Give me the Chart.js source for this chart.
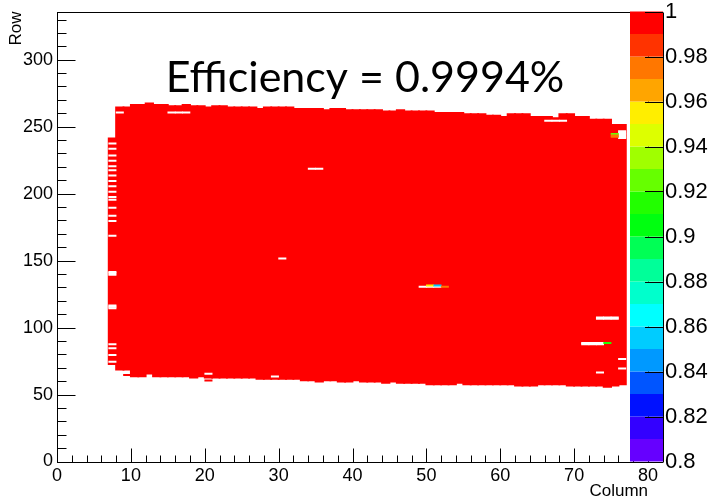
<!DOCTYPE html>
<html>
<head>
<meta charset="utf-8">
<script src="https://cdn.jsdelivr.net/npm/chart.js@4.4.1/dist/chart.umd.min.js"></script>
<style>
html,body{margin:0;padding:0;background:#fff;}
#wrap{width:721px;height:503px;position:relative;}
</style>
</head>
<body>
<div id="wrap"><canvas id="mapa"></canvas></div>
<script>
// columns with hits, and for each one the lowest / highest row reached
const columns = [7,8,9,10,11,12,13,14,15,16,17,18,19,20,21,22,23,24,25,26,27,28,29,30,31,32,33,34,35,36,37,38,39,40,41,
  42,43,44,45,46,47,48,49,50,51,52,53,54,55,56,57,58,59,60,61,62,63,64,65,66,67,68,69,70,71,72,73,74,75,76];
const rowTop = [242,265,265,267,267,268,267,267,266,266,267,266,266,265,266,266,265,265,265,265,264,265,265,265,265,264,264,264,264,263,264,
  264,263,263,263,263,263,262,262,263,262,262,262,262,261,261,261,261,260,260,260,259,259,258,260,260,260,258,258,258,257,260,260,258,258,256,256,256,252,252];
const rowBottom = [72,68,68,63,63,65,63,63,63,63,63,62,63,62,62,62,62,62,62,62,61,61,61,61,61,61,60,60,59,60,60,
  59,59,60,59,59,59,58,59,58,58,58,58,57,57,57,57,58,57,57,57,57,57,57,57,56,56,56,57,57,57,57,56,56,56,56,56,55,56,57];

// pixels without data inside the hit area: [col from, col to, row from, row to]
const holes = [
  [7,7,237,237],[7,7,233,233],[7,7,228,228],[7,7,224,224],[7,7,220,220],[7,7,217,217],[7,7,213,213],
  [7,7,209,209],[7,7,205,205],[7,7,201,201],[7,7,197,197],[7,7,195,195],[7,7,189,189],[7,7,183,183],
  [7,7,179,179],[7,7,168,168],[7,7,139,141],[7,7,114,116],[7,7,87,87],[7,7,84,84],[7,7,79,79],[7,7,74,74],
  [8,8,260,260],[15,17,260,260],[34,35,218,218],[30,30,151,151],[66,68,254,254],[73,75,106,107],
  [71,73,87,88],[73,73,66,66],[76,76,76,76],[76,76,69,69],[76,76,241,246],[49,51,130,130],
  [20,20,65,65],[29,29,63,63]
];
// single pixels: [col, row, efficiency]
const cells = [
  [50,131,0.955],[51,131,0.855],[52,130,0.975],[74,88,0.915],[75,244,0.925],[75,243,0.975],[75,242,0.975],
  [9,64,1],[20,60,1]
];

const xTicks = [0,10,20,30,40,50,60,70,80];
const yTicks = [0,50,100,150,200,250,300];
const zTicks = [0.8,0.82,0.84,0.86,0.88,0.9,0.92,0.94,0.96,0.98,1];
const xMinorStep = 2, yMinorStep = 10;
const nCols = 80, nRows = 336;
const zMin = 0.8, zMax = 1;
// palette, 20 levels from 0.80 up to 1.00
const palette = ['#6600ff','#3300ff','#0011ff','#0055ff','#0099ff','#00ccff','#00ffff','#00ffcc','#00ff99','#00ff55',
  '#00ff10','#22ff00','#66ff00','#a0ff00','#ddff00','#ffee00','#ffa500','#ff7700','#ff3300','#ff0000'];
const titleText = 'Efficiency = 0.9994%';

function colorFor(v){
  let i = Math.floor((v - zMin) / (zMax - zMin) * palette.length);
  if (i < 0) i = 0;
  if (i > palette.length - 1) i = palette.length - 1;
  return palette[i];
}

const barsRed = columns.map((c,i)=>({x:c+0.5, y:[rowBottom[i], rowTop[i]]}));
const barsHoles = [];
holes.forEach(h=>{
  for (let c=h[0]; c<=h[1]; c++) for (let r=h[2]; r<=h[3]; r++) barsHoles.push({x:c+0.5, y:[r, r+1]});
});
const barsCells = cells.map(p=>({x:p[0]+0.5, y:[p[1], p[1]+1], v:p[2]}));

Chart.defaults.font.family = "'Liberation Sans', Arial, sans-serif";
Chart.defaults.color = '#000';

// no extra room for the edge labels, the frame is placed by hand
function noEdgePadding(s){
  s.paddingTop = 0; s.paddingBottom = 0; s.paddingLeft = 0; s.paddingRight = 0;
}

const decor = {
  id: 'decor',
  afterDraw(chart){
    const ctx = chart.ctx, a = chart.chartArea;
    const sx = chart.scales.x, sy = chart.scales.y, sz = chart.scales.z;
    const L = Math.round(a.left)+0.5, R = Math.round(a.right)+0.5, T = Math.round(a.top)+0.5, B = Math.round(a.bottom)+0.5;
    ctx.save();
    ctx.strokeStyle = '#000';
    ctx.lineWidth = 1;
    ctx.strokeRect(L, T, R-L, B-T);
    ctx.beginPath();
    for (let v=0; v<=nRows; v+=yMinorStep){
      const y = Math.round(sy.getPixelForValue(v))+0.5;
      const len = yTicks.includes(v) ? 18 : 9;
      ctx.moveTo(L, y); ctx.lineTo(L+len, y);
    }
    for (let v=0; v<=nCols; v+=xMinorStep){
      const x = Math.round(sx.getPixelForValue(v))+0.5;
      const len = xTicks.includes(v) ? 14 : 7;
      ctx.moveTo(x, B); ctx.lineTo(x, B-len);
    }
    ctx.stroke();
    // colour palette
    const pl = Math.round(a.right) - 18, pr = Math.round(a.right) + 15;
    const step = (zMax - zMin) / palette.length;
    palette.forEach((c,i)=>{
      const y0 = sz.getPixelForValue(zMin + i*step), y1 = sz.getPixelForValue(zMin + (i+1)*step);
      ctx.fillStyle = c;
      ctx.fillRect(pl, y1, pr-pl, y0-y1);
    });
    ctx.beginPath();
    ctx.moveTo(pr+0.5, T); ctx.lineTo(pr+0.5, B);
    zTicks.forEach(v=>{
      const y = Math.round(sz.getPixelForValue(v))+0.5;
      ctx.moveTo(pr, y); ctx.lineTo(pr-18, y);
    });
    ctx.stroke();
    // text pasted over the map
    ctx.fillStyle = '#000';
    ctx.font = "43px Lato, 'Open Sans', sans-serif";
    ctx.textAlign = 'center';
    ctx.textBaseline = 'alphabetic';
    ctx.fillText(titleText, 365, 92);
    ctx.restore();
  }
};

new Chart(document.getElementById('mapa'), {
  type: 'bar',
  data: {
    datasets: [
      {data: barsCells, backgroundColor: barsCells.map(p=>colorFor(p.v)), borderWidth:0, barPercentage:1, categoryPercentage:1, grouped:false, order:1},
      {data: barsHoles, backgroundColor:'#ffffff', borderWidth:0, barPercentage:1, categoryPercentage:1, grouped:false, order:2},
      {data: barsRed, backgroundColor:'#ff0000', borderWidth:0, barPercentage:1.25, categoryPercentage:1, grouped:false, order:3}
    ]
  },
  options: {
    responsive: true,
    maintainAspectRatio: false,
    animation: false,
    layout: {padding: {left:0, right:0, top:11.5, bottom:0}},
    plugins: {legend:{display:false}, tooltip:{enabled:false}},
    scales: {
      x: {
        type:'linear', min:0, max:nCols, offset:false,
        afterFit: s=>{ s.height = 41.5; noEdgePadding(s); },
        grid:{display:false, drawTicks:false}, border:{display:false},
        ticks:{stepSize:10, autoSkip:false, maxRotation:0, padding:4, font:{size:18}, color:'#000',
          callback: v => xTicks.includes(v) ? String(v) : ''},
        title:{display:true, text:'Column', align:'end', font:{size:17}, padding:{top:0, bottom:1}, color:'#000'}
      },
      y: {
        type:'linear', min:0, max:nRows,
        afterFit: s=>{ s.width = 57; noEdgePadding(s); },
        grid:{display:false, drawTicks:false}, border:{display:false},
        ticks:{stepSize:50, includeBounds:false, autoSkip:false, padding:4, font:{size:18}, color:'#000',
          callback: v => yTicks.includes(v) ? String(v) : ''},
        title:{display:true, text:'Row', align:'end', font:{size:17}, padding:{top:6, bottom:0}, color:'#000'}
      },
      z: {
        type:'linear', position:'right', min:zMin, max:zMax,
        afterFit: s=>{ s.width = 73; noEdgePadding(s); },
        grid:{display:false, drawTicks:false}, border:{display:false},
        ticks:{stepSize:0.02, autoSkip:false, padding:17, font:{size:22, lineHeight:1}, color:'#000',
          callback: v => String(+v.toFixed(2))}
      }
    }
  },
  plugins: [decor]
});
</script>
</body>
</html>
